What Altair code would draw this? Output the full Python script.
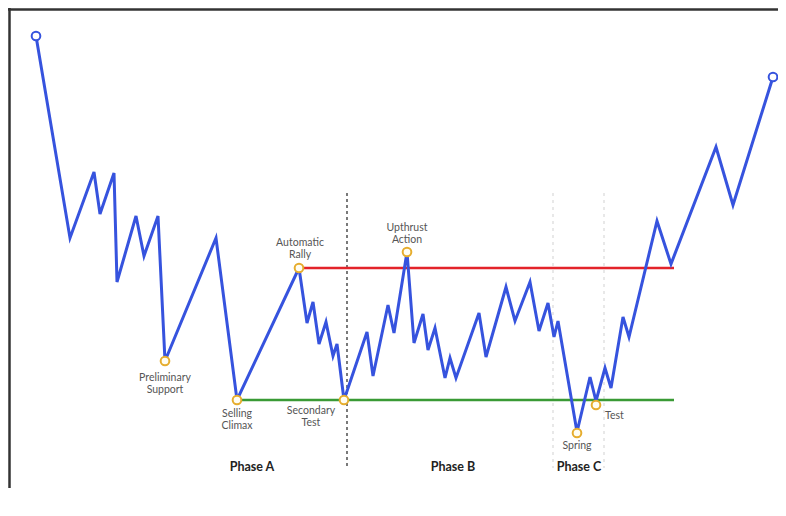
import altair as alt
import pandas as pd

# price path (time index, price) read from the schematic
time = [28, 62, 86, 92, 106, 109, 128, 136, 150, 157, 208, 229, 291, 299, 305, 311, 318, 325, 329, 336,
        359, 365, 380, 386, 399, 406, 415, 420, 427, 437, 442, 448, 471, 478, 498, 507, 522, 531, 540, 546,
        550, 569, 582, 588, 597, 603, 615, 621, 649, 663, 708, 725, 765]
price = [472, 270, 336, 294, 335, 226, 292, 252, 292, 147, 270, 108, 240, 185, 206, 164, 186, 152, 164, 108,
         176, 132, 203, 175, 256, 165, 194, 158, 180, 130, 150, 130, 195, 151, 221, 187, 226, 177, 205, 171,
         187, 76, 131, 107, 140, 120, 191, 171, 287, 244, 361, 303, 431]

# key events
event_names = ["Preliminary Support", "Selling Climax", "Automatic Rally", "Secondary Test",
               "Upthrust Action", "Spring", "Test"]
event_time = [157, 229, 291, 336, 399, 569, 588]
event_price = [147, 108, 240, 108, 256, 75, 103]

# endpoints
end_time = [28, 765]
end_price = [472, 431]

# resistance / support
resistance_price = 240
support_price = 108
level_start = [291, 229]
level_end = 666

# phase dividers
divider_time = [339, 545, 596]
divider_kind = ["main", "minor", "minor"]
divider_top = 315
divider_bottom = 40

# label lines (text, time, price, align)
label_text = ["Preliminary", "Support", "Selling", "Climax", "Secondary", "Test", "Automatic", "Rally",
              "Upthrust", "Action", "Spring", "Test"]
label_time = [157, 157, 229, 229, 303, 303, 292, 292, 399, 399, 569, 597]
label_price = [130, 118, 94, 82, 97, 85, 265, 253, 280, 268, 62, 92]
label_align = ["center"] * 11 + ["left"]

phase_text = ["Phase A", "Phase B", "Phase C"]
phase_time = [244, 445, 571]
phase_price = [41, 41, 41]

XS = alt.Scale(domain=[0, 770], range=[0, 770])
YS = alt.Scale(domain=[20, 500], range=[480, 0])

path_df = pd.DataFrame({"i": range(len(time)), "t": time, "p": price})
ev_df = pd.DataFrame({"name": event_names, "t": event_time, "p": event_price})
end_df = pd.DataFrame({"t": end_time, "p": end_price})
lvl_df = pd.DataFrame({"kind": ["resistance", "support"],
                       "p": [resistance_price, support_price],
                       "t": level_start, "t2": [level_end, level_end]})
div_df = pd.DataFrame({"t": divider_time, "kind": divider_kind,
                       "p": [divider_top] * 3, "p2": [divider_bottom] * 3})
lab_df = pd.DataFrame({"text": label_text, "t": label_time, "p": label_price, "al": label_align})
ph_df = pd.DataFrame({"text": phase_text, "t": phase_time, "p": phase_price})


def x(f="t"):
    return alt.X(f"{f}:Q", scale=XS, axis=None)


def y(f="p"):
    return alt.Y(f"{f}:Q", scale=YS, axis=None)


main_div = alt.Chart(div_df[div_df["kind"] == "main"]).mark_rule(
    color="#333", strokeWidth=1.3, strokeDash=[3, 3]).encode(x=x(), y=y(), y2="p2:Q")
minor_div = alt.Chart(div_df[div_df["kind"] == "minor"]).mark_rule(
    color="#dcdcdc", strokeWidth=1.3, strokeDash=[3, 4]).encode(x=x(), y=y(), y2="p2:Q")

levels = alt.Chart(lvl_df).mark_rule(strokeWidth=2.5).encode(
    x=x(), x2="t2:Q", y=y(),
    color=alt.Color("kind:N", scale=alt.Scale(domain=["resistance", "support"],
                                              range=["#e3232a", "#3a9a35"]), legend=None))

path = alt.Chart(path_df).mark_line(color="#3653de", strokeWidth=3, strokeJoin="miter").encode(
    x=x(), y=y(), order="i:Q")

events = alt.Chart(ev_df).mark_point(shape="circle", size=75, filled=False, stroke="#e6ad2e",
                                     strokeWidth=2, fill="#fffdf2", fillOpacity=1).encode(x=x(), y=y())
ends = alt.Chart(end_df).mark_point(shape="circle", size=75, filled=False, stroke="#3653de",
                                    strokeWidth=2, fill="white", fillOpacity=1).encode(x=x(), y=y())

labels_c = alt.Chart(lab_df[lab_df["al"] == "center"]).mark_text(
    font="Lato", fontSize=10.5, color="#555", align="center", baseline="middle").encode(
    x=x(), y=y(), text="text:N")
labels_l = alt.Chart(lab_df[lab_df["al"] == "left"]).mark_text(
    font="Lato", fontSize=10.5, color="#555", align="left", baseline="middle").encode(
    x=x(), y=y(), text="text:N")
phases = alt.Chart(ph_df).mark_text(
    font="Lato", fontSize=12.5, fontWeight="bold", color="#222", align="center", baseline="middle").encode(
    x=x(), y=y(), text="text:N")

frame_df = pd.DataFrame({"k": [0]})
frame_top = alt.Chart(frame_df).mark_rule(color="#333", strokeWidth=2.5).encode(y=alt.value(1.5))
frame_left = alt.Chart(frame_df).mark_rule(color="#333", strokeWidth=2.5).encode(x=alt.value(1.5))

chart = alt.layer(frame_top, frame_left, main_div, minor_div, levels, path, events, ends,
                  labels_c, labels_l, phases).properties(
    width=770, height=480, padding=0, autosize="none", background="white"
).configure_view(stroke="transparent", strokeWidth=0)

chart.save("out.html", embed_options={"renderer": "svg", "actions": False})
